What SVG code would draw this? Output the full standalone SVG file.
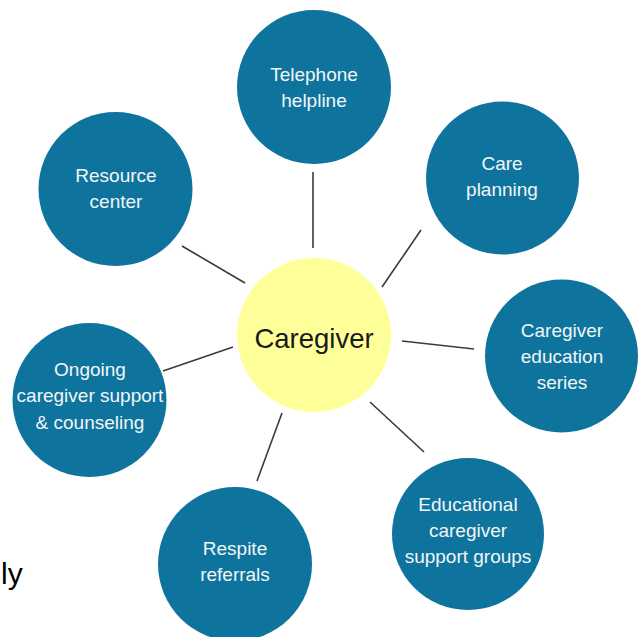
<svg xmlns="http://www.w3.org/2000/svg" width="644" height="637" viewBox="0 0 644 637">
<style>
.node{fill:#0F749D;}
.lbl{font-family:"Liberation Sans",Arial,sans-serif;font-size:19px;fill:#F2F6F8;text-anchor:middle;}
.conn{stroke:#3A3A3A;stroke-width:1.6;fill:none;}
</style>
<rect width="644" height="637" fill="#FFFFFF"/>
<g id="connectors">
<line class="conn" x1="313" y1="172" x2="313" y2="248"/>
<line class="conn" x1="421" y1="230" x2="382" y2="287"/>
<line class="conn" x1="402" y1="341" x2="474" y2="349"/>
<line class="conn" x1="370" y1="402" x2="424" y2="452"/>
<line class="conn" x1="282" y1="413" x2="257" y2="481"/>
<line class="conn" x1="233" y1="347" x2="163" y2="371"/>
<line class="conn" x1="245" y1="283" x2="182" y2="246"/>
</g>
<g id="caregiver">
<circle cx="314" cy="335" r="77" fill="#FFFF99"/>
<text x="314" y="348" font-family="Liberation Sans,Arial,sans-serif" font-size="27.5" fill="#1A1A1A" text-anchor="middle">Caregiver</text>
</g>
<g id="telephone-helpline">
<circle class="node" cx="314" cy="87" r="77"/>
<text class="lbl" x="314" y="81">Telephone</text>
<text class="lbl" x="314" y="107">helpline</text>
</g>
<g id="care-planning">
<circle class="node" cx="502.5" cy="178" r="76.5"/>
<text class="lbl" x="502" y="170">Care</text>
<text class="lbl" x="502" y="196">planning</text>
</g>
<g id="caregiver-education-series">
<circle class="node" cx="561.5" cy="356" r="76.5"/>
<text class="lbl" x="562" y="337">Caregiver</text>
<text class="lbl" x="562" y="363">education</text>
<text class="lbl" x="562" y="389">series</text>
</g>
<g id="educational-caregiver-support-groups">
<circle class="node" cx="468" cy="534" r="76"/>
<text class="lbl" x="468" y="511">Educational</text>
<text class="lbl" x="468" y="537">caregiver</text>
<text class="lbl" x="468" y="563">support groups</text>
</g>
<g id="respite-referrals">
<circle class="node" cx="235" cy="564" r="77"/>
<text class="lbl" x="235" y="555">Respite</text>
<text class="lbl" x="235" y="581">referrals</text>
</g>
<g id="ongoing-support">
<circle class="node" cx="89.5" cy="400" r="77"/>
<text class="lbl" x="90" y="376">Ongoing</text>
<text class="lbl" x="90" y="402">caregiver support</text>
<text class="lbl" x="90" y="429">&amp; counseling</text>
</g>
<g id="resource-center">
<circle class="node" cx="115.5" cy="189" r="77"/>
<text class="lbl" x="116" y="182">Resource</text>
<text class="lbl" x="116" y="208">center</text>
</g>
<text x="1" y="584" font-family="Liberation Sans,Arial,sans-serif" font-size="30" fill="#000000">ly</text>
</svg>
